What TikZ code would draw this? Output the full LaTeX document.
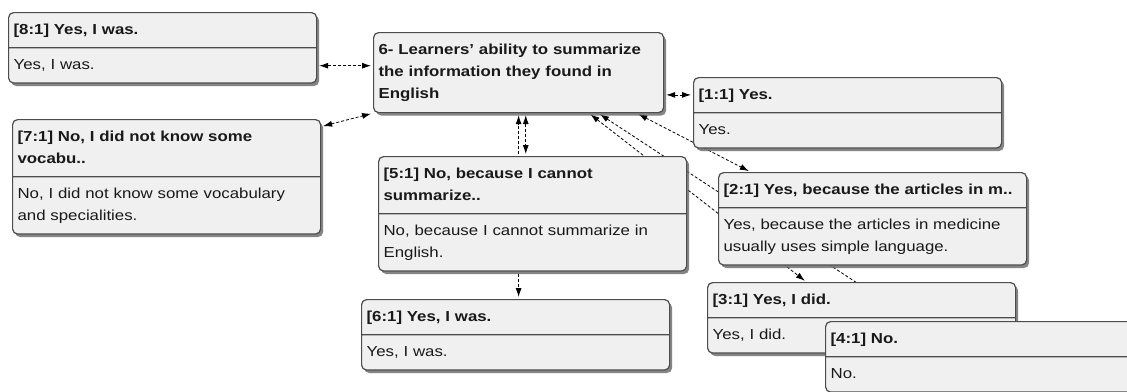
\documentclass[tikz,border=0pt]{standalone}
\usepackage{fontspec}
\setmainfont{Liberation Sans}[FakeStretch=1.16]
\usetikzlibrary{arrows.meta, shapes.multipart, shadows, backgrounds, calc}

\begin{document}
\begin{tikzpicture}[x=1pt, y=-1pt,
			quotebox/.style={rectangle split, rectangle split parts=2, draw=black!70,
					line width=1.2pt, rounded corners=5pt, fill=black!6, text width=298pt,
					inner xsep=5pt, inner ysep=6pt, align=left, anchor=north west,
					font=\fontsize{14.5}{22}\selectfont, text=black!90,
					drop shadow={shadow xshift=2.5pt, shadow yshift=-3pt, fill=black!60, opacity=0.8}},
			codebox/.style={rectangle, draw=black!70, line width=1.2pt, rounded corners=5pt,
					fill=black!6, text width=280pt, inner xsep=5pt, minimum height=80pt,
					align=left, anchor=north west, font=\fontsize{14.5}{22}\selectfont\bfseries,
					text=black!90,
					drop shadow={shadow xshift=2.5pt, shadow yshift=-3pt, fill=black!60, opacity=0.8}},
			link/.style={densely dashed, line width=0.8pt,
					{Latex[length=9pt, width=6pt]}-{Latex[length=9pt, width=6pt]},
					shorten <=2pt, shorten >=2pt},
			oneway/.style={densely dashed, line width=0.8pt, -{Latex[length=9pt, width=6pt]},
					shorten <=2pt, shorten >=2pt},
		]
		\useasboundingbox (0,0) rectangle (1127,391);

		\node (cent) [codebox] at (373, 32)
		{6- Learners' ability to summarize\\the information they found in\\English};
		\node (n8) [quotebox] at (8, 12)
		{\strut\textbf{[8:1] Yes, I was.}\nodepart{two}\strut Yes, I was.};
		\node (n7) [quotebox] at (12, 119)
		{\strut\textbf{[7:1] No, I did not know some\\vocabu..}\strut
			\nodepart{two}\strut No, I did not know some vocabulary\\and specialities.\strut};
		\node (n1) [quotebox] at (693, 77)
		{\strut\textbf{[1:1] Yes.}\nodepart{two}\strut Yes.};
		\node (n5) [quotebox] at (378, 156)
		{\strut\textbf{[5:1] No, because I cannot\\summarize..}\strut
			\nodepart{two}\strut No, because I cannot summarize in\\English.\strut};
		\node (n2) [quotebox] at (718, 172)
		{\strut\textbf{[2:1] Yes, because the articles in m..}
			\nodepart{two}\strut Yes, because the articles in medicine\\usually uses simple language.\strut};
		\node (n6) [quotebox] at (361, 299)
		{\strut\textbf{[6:1] Yes, I was.}\nodepart{two}\strut Yes, I was.};
		\node (n3) [quotebox] at (707, 282)
		{\strut\textbf{[3:1] Yes, I did.}\nodepart{two}\strut Yes, I did.};
		\node (n4) [quotebox] at (825, 321)
		{\strut\textbf{[4:1] No.}\nodepart{two}\strut No.};

		\coordinate (l8) at ($(n8.east)!0.5!(n8.south east)$);
		\coordinate (l1) at ($(n1.west)!0.5!(n1.north west)$);

		\begin{scope}[on background layer]
			% [8:1] -- code
			\draw [link] (l8) -- (cent.west |- l8);
			% [7:1] -- code
			\draw [link] (n7.18) -- (cent.south west);
			% [1:1] -- code
			\draw [link] (cent.east |- l1) -- (l1);
			% [5:1] -- code, two links
			\draw [oneway] (n5.north -| cent.south) -- (cent.south);
			\draw [link] (cent.-80) -- (n5.north -| cent.-80);
			% [5:1] -- [6:1]
			\draw [oneway] (n5.south -| cent.south) -- (n6.north -| cent.south);
			% [2:1], [3:1], [4:1] -- code
			\draw [link] (cent.-19) -- (n2.159);
			\draw [link] (cent.-30) -- (n3.147);
			\draw [link] (cent.-27) -- (n4.151);
		\end{scope}
	\end{tikzpicture}
\end{document}
